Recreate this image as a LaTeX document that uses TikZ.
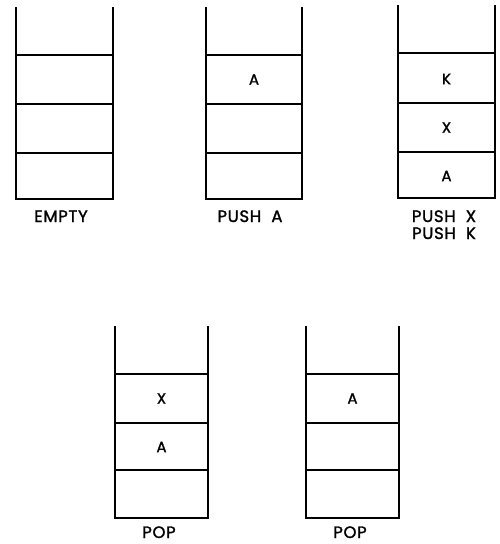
\documentclass[tikz,border=0pt]{standalone}
\usepackage{fontspec}
\setmainfont{Poppins}[FakeBold=1.5, LetterSpace=4]
\usetikzlibrary{positioning}

\begin{document}
\begin{tikzpicture}[x=1pt,y=-1pt,
    wall/.style={line width=1.5pt, line cap=rect},
    entry/.style={font=\fontsize{15}{15}\selectfont},
    caption/.style={font=\fontsize{16.5}{17}\selectfont, anchor=base, inner sep=0pt}]
  \useasboundingbox (0,0) rectangle (500,544);
  % ---- top row
  \begin{scope}[shift={(16,8)}]
    \draw[wall] (0,0) -- (0,191) -- (97,191) -- (97,0);
    \foreach \yy in {47,96,145} \draw[wall] (0,\yy) -- (97,\yy);
    \node[caption] (capempty) at (45,214) {EMPTY};
  \end{scope}
  \begin{scope}[shift={(206,8)}]
    \draw[wall] (0,0) -- (0,191) -- (96,191) -- (96,0);
    \foreach \yy in {47,96,145} \draw[wall] (0,\yy) -- (96,\yy);
    \node[entry] (pa1) at (48,71.5) {A};
    \node[caption] (cappusha) at (44,214) {PUSH~~A};
  \end{scope}
  \begin{scope}[shift={(398,6)}]
    \draw[wall] (0,0) -- (0,192) -- (97,192) -- (97,0);
    \foreach \yy in {47,97,146} \draw[wall] (0,\yy) -- (97,\yy);
    \node[entry] (pk3) at (48.5,73) {K};
    \node[entry] (px2) at (48.5,121.5) {X};
    \node[entry] (pa1b) at (48.5,170) {A};
    \node[caption] (cappushx) at (46,216) {PUSH~~X};
    \node[caption] (cappushk) at (46,233) {PUSH~~K};
  \end{scope}
  % ---- bottom row
  \begin{scope}[shift={(115,327)}]
    \draw[wall] (0,0) -- (0,191) -- (93,191) -- (93,0);
    \foreach \yy in {47,96,143} \draw[wall] (0,\yy) -- (93,\yy);
    \node[entry] (ox2) at (46.5,71.5) {X};
    \node[entry] (oa1) at (46.5,120) {A};
    \node[caption] (cappop1) at (44,211) {POP};
  \end{scope}
  \begin{scope}[shift={(306,327)}]
    \draw[wall] (0,0) -- (0,191) -- (93,191) -- (93,0);
    \foreach \yy in {47,96,143} \draw[wall] (0,\yy) -- (93,\yy);
    \node[entry] (qa1) at (46.5,71.5) {A};
    \node[caption] (cappop2) at (44,211) {POP};
  \end{scope}
\end{tikzpicture}
\end{document}
